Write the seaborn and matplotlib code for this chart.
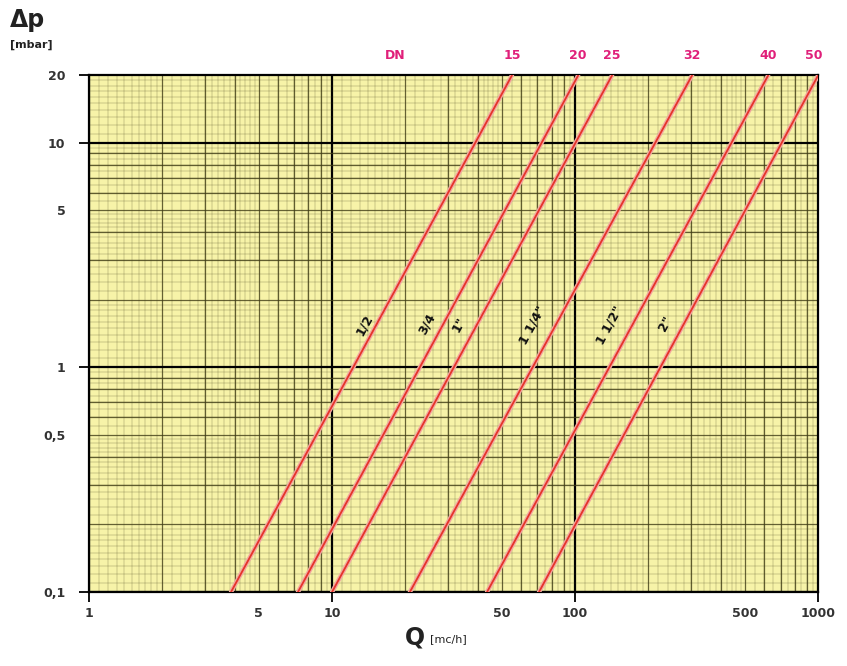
import numpy as np
import pandas as pd
import matplotlib
matplotlib.use("Agg")
import matplotlib.pyplot as plt
import matplotlib.transforms as mtransforms
import seaborn as sns

sns.set_theme(style="ticks")
plt.rcParams['font.family'] = ['DejaVu Sans']

# pipe sizes (inch) and DN
pipes = ['1/2', '3/4', '1"', '1 1/4"', '1 1/2"', '2"']
dn_labels = ['15', '20', '25', '32', '40', '50']
# each line is read at two pressure drops (mbar)
dp_ends = [0.1, 20]
q_low = [3.84, 7.24, 10.0, 20.9, 43.4, 71.0]      # Q at 0.1 mbar
q_high = [55.0, 103.0, 142.0, 303.0, 623.0, 1000.0]  # Q at 20 mbar
# label positions (Q, dp) for the pipe names
lab_q = [13.6, 24.6, 33.4, 67.0, 139.0, 235.0]
lab_dp = [1.55, 1.56, 1.55, 1.55, 1.55, 1.57]
dn_title_q = 18.2

rows = []
for name, a, b in zip(pipes, q_low, q_high):
    rows.append({'pipe': name, 'Q': a, 'dp': dp_ends[0]})
    rows.append({'pipe': name, 'Q': b, 'dp': dp_ends[1]})
df = pd.DataFrame(rows)

fig = plt.figure(figsize=(8.47, 6.66), dpi=100)
ax = fig.add_axes([0.105, 0.111, 0.861, 0.776])
ax.set_facecolor('#f7f3a8')
ax.set_xscale('log')
ax.set_yscale('log')
ax.set_xlim(1, 1000)
ax.set_ylim(0.1, 20)

grid_col = '#403d16'

# log paper grid
def fine_steps(lo):
    out = []
    for m in np.arange(1.1, 2.0, 0.1):
        out.append(m * lo)
    for m in np.arange(2.2, 5.0, 0.2):
        out.append(m * lo)
    for m in np.arange(5.5, 10.0, 0.5):
        out.append(m * lo)
    return out

for dec in [1, 10, 100]:
    for v in fine_steps(dec):
        ax.axvline(v, color=grid_col, lw=0.35, alpha=0.5, zorder=1)
    for m in range(2, 10):
        ax.axvline(m * dec, color=grid_col, lw=0.9, alpha=0.8, zorder=1)
    ax.axvline(dec, color='black', lw=1.6, zorder=1)
for dec in [0.1, 1, 10]:
    for v in fine_steps(dec):
        if v < 20:
            ax.axhline(v, color=grid_col, lw=0.35, alpha=0.5, zorder=1)
    for m in range(2, 10):
        if m * dec < 20:
            ax.axhline(m * dec, color=grid_col, lw=0.9, alpha=0.8, zorder=1)
    ax.axhline(dec, color='black', lw=1.6, zorder=1)

red = ['#e5342a'] * len(pipes)
pink = ['#f2a9a2'] * len(pipes)
sns.lineplot(data=df, x='Q', y='dp', hue='pipe', palette=pink, lw=3.2,
             legend=False, ax=ax, zorder=3)
sns.lineplot(data=df, x='Q', y='dp', hue='pipe', palette=red, lw=1.3,
             legend=False, ax=ax, zorder=4)

for name, q, p in zip(pipes, lab_q, lab_dp):
    ax.text(q, p, name, rotation=61.5, ha='center', va='center',
            fontsize=9, fontweight='bold', color='#111111', zorder=5)

# DN labels above the frame
trans = mtransforms.blended_transform_factory(ax.transData, ax.transAxes)
mag = '#e0207a'
ax.text(dn_title_q, 1.025, 'DN', transform=trans, ha='center', va='bottom',
        fontsize=9, fontweight='bold', color=mag)
for lbl, q in zip(dn_labels, q_high):
    ax.text(min(q, 960), 1.025, lbl, transform=trans, ha='center', va='bottom',
            fontsize=9, fontweight='bold', color=mag)

# ticks
ax.set_xticks([1, 10, 100, 1000])
ax.set_xticklabels(['1', '10', '100', '1000'])
ax.set_xticks([5, 50, 500], minor=True)
ax.set_xticklabels(['5', '50', '500'], minor=True)
ax.set_yticks([0.1, 1, 10, 20])
ax.set_yticklabels(['0,1', '1', '10', '20'])
ax.set_yticks([0.5, 5], minor=True)
ax.set_yticklabels(['0,5', '5'], minor=True)
ax.tick_params(which='major', length=7, width=1.3, color='black',
               labelsize=9, pad=4)
ax.tick_params(which='minor', length=0, labelsize=9, pad=11)
ax.tick_params(axis='y', which='major', pad=10)
ax.tick_params(axis='y', which='minor', pad=17)
for t in ax.get_xticklabels(which='both') + ax.get_yticklabels(which='both'):
    t.set_fontweight('bold')
    t.set_color('#333333')
for s in ax.spines.values():
    s.set_color('black')
    s.set_linewidth(1.6)
ax.set_xlabel('')
ax.set_ylabel('')

fig.text(0.012, 0.97, '\u0394p', fontsize=17, fontweight='bold',
         color='#222222', ha='left', va='center')
fig.text(0.012, 0.932, '[mbar]', fontsize=8, fontweight='bold',
         color='#222222', ha='left', va='center')
fig.text(0.49, 0.043, 'Q', fontsize=17, fontweight='bold',
         color='#222222', ha='center', va='center')
fig.text(0.508, 0.04, '[mc/h]', fontsize=8, color='#222222',
         ha='left', va='center')

fig.savefig('out.png', dpi=100)
